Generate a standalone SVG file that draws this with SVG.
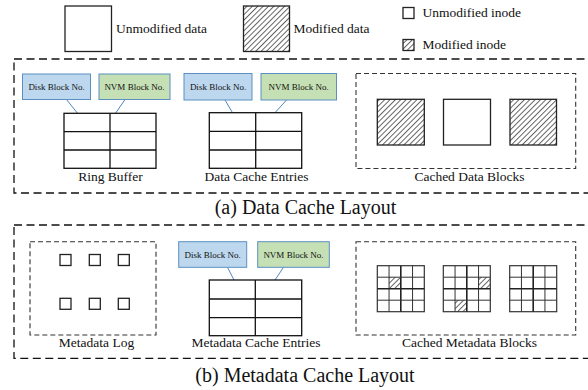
<svg xmlns="http://www.w3.org/2000/svg" width="588" height="390" viewBox="0 0 588 390">
<defs>
<pattern id="hatch" patternUnits="userSpaceOnUse" width="3.8" height="3.8" patternTransform="rotate(45)">
<rect width="3.8" height="3.8" fill="#fff"/>
<line x1="0.5" y1="0" x2="0.5" y2="3.8" stroke="#333" stroke-width="0.75"/>
</pattern>
<style>
text{font-family:"Liberation Serif","Times New Roman",serif;fill:#111}
.lbl{font-size:13.5px}
.cap{font-size:20px}
.tiny{font-size:9px}
.outer{fill:none;stroke:#111;stroke-width:1.3;stroke-dasharray:8,4.5}
.inner{fill:none;stroke:#333;stroke-width:1.1;stroke-dasharray:5,3}
.sq{fill:#fff;stroke:#222;stroke-width:1.3}
.hsq{fill:url(#hatch);stroke:#222;stroke-width:1.3}
.disk{fill:#bdd7ee;stroke:#5b8fc2;stroke-width:1}
.nvm{fill:#c5e0b4;stroke:#5b8fc2;stroke-width:1}
.tbl{fill:#fff;stroke:#111;stroke-width:1.3}
.tl{stroke:#111;stroke-width:1.3}
.con{stroke:#4f86bd;stroke-width:1}
.gl{stroke:#333;stroke-width:1}
.gm{stroke:#222;stroke-width:1.6}
</style>
</defs>

<g id="legend">
<rect class="sq" x="65" y="6" width="46.5" height="45.5"/>
<text class="lbl" x="116" y="32.5">Unmodified data</text>
<rect class="hsq" x="243.5" y="6" width="46" height="45.5"/>
<text class="lbl" x="293.5" y="32.5">Modified data</text>
<rect class="sq" x="403" y="7.5" width="11" height="11" stroke-width="1"/>
<text class="lbl" x="422.5" y="17">Unmodified inode</text>
<rect class="hsq" x="403" y="39.5" width="11" height="11" stroke-width="1"/>
<text class="lbl" x="422.5" y="49">Modified inode</text>
</g>

<g id="data-cache-layout">
<rect class="outer" x="14" y="59" width="578" height="134"/>
<text class="cap" x="305.5" y="214" text-anchor="middle">(a) Data Cache Layout</text>
</g>

<g id="connectors">
<line class="con" x1="66.5" y1="99.5" x2="77.5" y2="113.3"/>
<line class="con" x1="125" y1="99.5" x2="115.5" y2="113.3"/>
<line class="con" x1="225" y1="100" x2="232.5" y2="112.7"/>
<line class="con" x1="286.5" y1="100" x2="275" y2="112.7"/>
<line class="con" x1="227.5" y1="267.3" x2="234" y2="280"/>
<line class="con" x1="283.5" y1="267.3" x2="275" y2="280"/>
</g>

<g id="ring-buffer">
<rect class="disk" x="22.5" y="74" width="68" height="25.5"/>
<text class="tiny" x="56.5" y="90" text-anchor="middle">Disk Block No.</text>
<rect class="nvm" x="99" y="74" width="71" height="25.5"/>
<text class="tiny" x="134.5" y="90" text-anchor="middle">NVM Block No.</text>
<rect class="tbl" x="64" y="113.3" width="92" height="55"/>
<line class="tl" x1="110" y1="113.3" x2="110" y2="168.3"/>
<line class="tl" x1="64" y1="131.7" x2="156" y2="131.7"/>
<line class="tl" x1="64" y1="150" x2="156" y2="150"/>
<text class="lbl" x="110.5" y="180.5" text-anchor="middle">Ring Buffer</text>
</g>

<g id="data-cache-entries">
<rect class="disk" x="184" y="73.5" width="68" height="26.5"/>
<text class="tiny" x="218" y="90" text-anchor="middle">Disk Block No.</text>
<rect class="nvm" x="261" y="73.5" width="75.5" height="26.5"/>
<text class="tiny" x="298.7" y="90" text-anchor="middle">NVM Block No.</text>
<rect class="tbl" x="209.3" y="112.7" width="92.4" height="55.6"/>
<line class="tl" x1="255.7" y1="112.7" x2="255.7" y2="168.3"/>
<line class="tl" x1="209.3" y1="131.3" x2="301.7" y2="131.3"/>
<line class="tl" x1="209.3" y1="150" x2="301.7" y2="150"/>
<text class="lbl" x="256.5" y="180.5" text-anchor="middle">Data Cache Entries</text>
</g>

<g id="cached-data-blocks">
<rect class="inner" x="356" y="73.5" width="219.7" height="95"/>
<rect class="hsq" x="377.3" y="99.3" width="47" height="45.7"/>
<rect class="sq" x="443.5" y="99.3" width="47" height="45.7"/>
<rect class="hsq" x="510" y="99.3" width="46.5" height="45.7"/>
<text class="lbl" x="469.5" y="180.5" text-anchor="middle">Cached Data Blocks</text>
</g>

<g id="metadata-cache-layout">
<rect class="outer" x="14" y="225" width="578" height="133.3"/>
<text class="cap" x="305" y="381.5" text-anchor="middle">(b) Metadata Cache Layout</text>
</g>

<g id="metadata-log">
<rect class="inner" x="30" y="241.7" width="126" height="93.3"/>
<rect class="sq" x="60" y="254.5" width="11" height="11"/>
<rect class="sq" x="89.3" y="254.5" width="11" height="11"/>
<rect class="sq" x="118.3" y="254.5" width="11" height="11"/>
<rect class="sq" x="60" y="298.3" width="11" height="11"/>
<rect class="sq" x="89.3" y="298.3" width="11" height="11"/>
<rect class="sq" x="118.3" y="298.3" width="11" height="11"/>
<text class="lbl" x="96.5" y="347" text-anchor="middle">Metadata Log</text>
</g>

<g id="metadata-cache-entries">
<rect class="disk" x="178.7" y="241.7" width="68" height="25.6"/>
<text class="tiny" x="212.7" y="257.5" text-anchor="middle">Disk Block No.</text>
<rect class="nvm" x="257.7" y="241.7" width="71.6" height="25.6"/>
<text class="tiny" x="293.5" y="257.5" text-anchor="middle">NVM Block No.</text>
<rect class="tbl" x="209.3" y="280" width="92.4" height="55.7"/>
<line class="tl" x1="255.3" y1="280" x2="255.3" y2="335.7"/>
<line class="tl" x1="209.3" y1="299" x2="301.7" y2="299"/>
<line class="tl" x1="209.3" y1="317.7" x2="301.7" y2="317.7"/>
<text class="lbl" x="256" y="347" text-anchor="middle">Metadata Cache Entries</text>
</g>

<g id="cached-metadata-blocks">
<rect class="inner" x="356" y="241.7" width="219.7" height="93.3"/>
<g id="mgrid1">
<rect x="389.05" y="277.2" width="11.75" height="11.5" fill="url(#hatch)"/>
<rect x="377.3" y="265.7" width="47" height="46" fill="none" stroke="#333" stroke-width="1.2"/>
<line class="gl" x1="389.05" y1="265.7" x2="389.05" y2="311.7"/>
<line class="gm" x1="400.8" y1="265.7" x2="400.8" y2="311.7"/>
<line class="gl" x1="412.55" y1="265.7" x2="412.55" y2="311.7"/>
<line class="gl" x1="377.3" y1="277.2" x2="424.3" y2="277.2"/>
<line class="gm" x1="377.3" y1="288.7" x2="424.3" y2="288.7"/>
<line class="gl" x1="377.3" y1="300.2" x2="424.3" y2="300.2"/>
</g>
<g id="mgrid2">
<rect x="478.55" y="277.2" width="11.75" height="11.5" fill="url(#hatch)"/>
<rect x="455.05" y="300.2" width="11.75" height="11.5" fill="url(#hatch)"/>
<rect x="443.3" y="265.7" width="47" height="46" fill="none" stroke="#333" stroke-width="1.2"/>
<line class="gl" x1="455.05" y1="265.7" x2="455.05" y2="311.7"/>
<line class="gm" x1="466.8" y1="265.7" x2="466.8" y2="311.7"/>
<line class="gl" x1="478.55" y1="265.7" x2="478.55" y2="311.7"/>
<line class="gl" x1="443.3" y1="277.2" x2="490.3" y2="277.2"/>
<line class="gm" x1="443.3" y1="288.7" x2="490.3" y2="288.7"/>
<line class="gl" x1="443.3" y1="300.2" x2="490.3" y2="300.2"/>
</g>
<g id="mgrid3">
<rect x="509.7" y="265.7" width="47" height="46" fill="none" stroke="#333" stroke-width="1.2"/>
<line class="gl" x1="521.45" y1="265.7" x2="521.45" y2="311.7"/>
<line class="gm" x1="533.2" y1="265.7" x2="533.2" y2="311.7"/>
<line class="gl" x1="544.95" y1="265.7" x2="544.95" y2="311.7"/>
<line class="gl" x1="509.7" y1="277.2" x2="556.7" y2="277.2"/>
<line class="gm" x1="509.7" y1="288.7" x2="556.7" y2="288.7"/>
<line class="gl" x1="509.7" y1="300.2" x2="556.7" y2="300.2"/>
</g>
<text class="lbl" x="469.5" y="347" text-anchor="middle">Cached Metadata Blocks</text>
</g>
</svg>
